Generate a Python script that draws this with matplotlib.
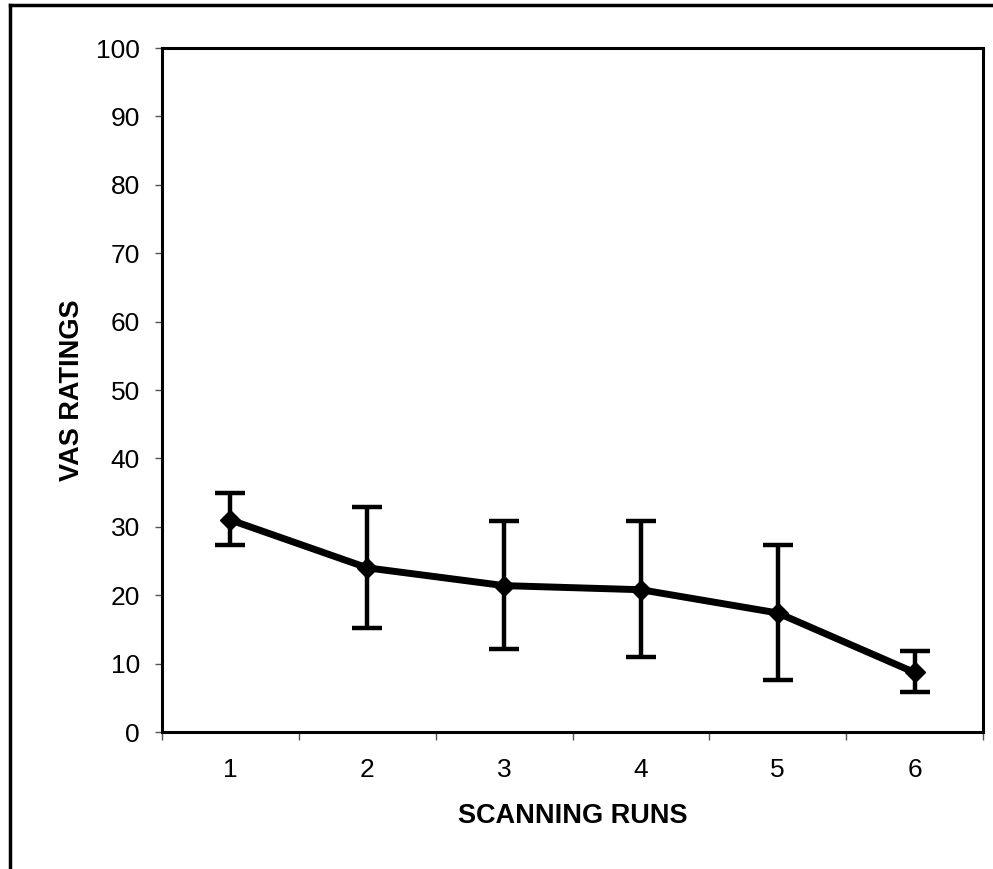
import matplotlib as mpl
import matplotlib.pyplot as plt
from matplotlib.lines import Line2D

mpl.use('Agg')

# data
runs = [1, 2, 3, 4, 5, 6]
run_labels = ['1', '2', '3', '4', '5', '6']
vas_mean = [31.0, 24.0, 21.4, 20.8, 17.4, 8.7]
vas_upper = [35.0, 32.9, 30.8, 30.9, 27.3, 11.8]
vas_lower = [27.3, 15.2, 12.1, 10.9, 7.6, 5.8]
y_ticks = [0, 10, 20, 30, 40, 50, 60, 70, 80, 90, 100]

plt.rcParams['font.family'] = ['Liberation Sans', 'DejaVu Sans']

fig = plt.figure(figsize=(9.93, 8.69), dpi=100)
ax = fig.add_axes([162 / 993, 1 - 732 / 869, (983 - 162) / 993, (732 - 48) / 869])

err_lo = [m - l for m, l in zip(vas_mean, vas_lower)]
err_hi = [u - m for m, u in zip(vas_mean, vas_upper)]
ax.errorbar(runs, vas_mean, yerr=[err_lo, err_hi], fmt='none', ecolor='black',
            elinewidth=3.2, capsize=10.5, capthick=3.2, zorder=2)
ax.plot(runs, vas_mean, color='black', lw=5, marker='D', markersize=10, zorder=3)

ax.set_xlim(0.5, 6.5)
ax.set_ylim(0, 100)
ax.set_yticks(y_ticks)
ax.set_yticklabels([str(t) for t in y_ticks], fontsize=19)
ax.tick_params(axis='y', direction='out', length=5, width=1, color='#555555', pad=11)

# Excel-style category axis: ticks between categories, labels centred
ax.set_xticks([r - 0.5 for r in runs] + [6.5])
ax.set_xticklabels([])
ax.set_xticks(runs, minor=True)
ax.set_xticklabels(run_labels, minor=True, fontsize=19)
ax.tick_params(axis='x', which='major', direction='out', length=5.8, width=1, color='#555555')
ax.tick_params(axis='x', which='minor', length=0, pad=19)

ax.set_xlabel('SCANNING RUNS', fontsize=19.5, fontweight='bold', labelpad=15)
ax.set_ylabel('VAS RATINGS', fontsize=19.5, fontweight='bold', labelpad=8)

for side in ['left', 'right', 'top', 'bottom']:
    ax.spines[side].set_linewidth(2.2)

# outer frame (top and left edges only)
fig.add_artist(Line2D([10 / 993, 1.0], [1 - 5 / 869, 1 - 5 / 869], color='black', lw=2.5,
                      transform=fig.transFigure))
fig.add_artist(Line2D([10 / 993, 10 / 993], [1 - 5 / 869, 0.0], color='black', lw=2.5,
                      transform=fig.transFigure))

fig.savefig('out.png', dpi=100)
